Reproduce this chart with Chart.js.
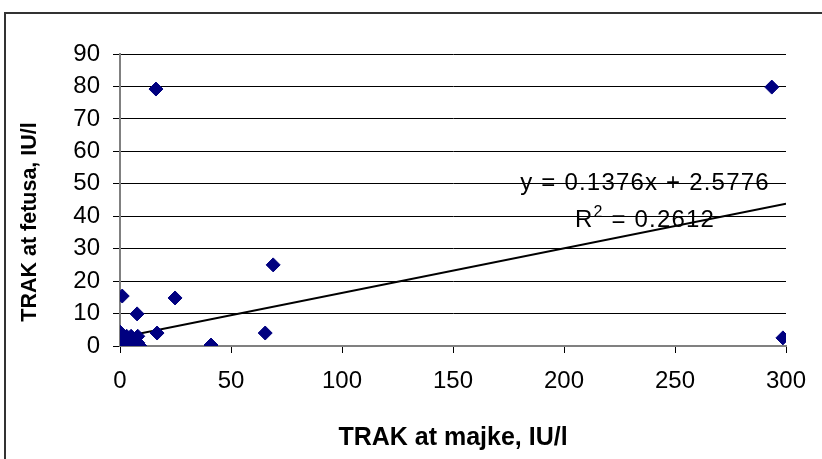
<!DOCTYPE html>
<html>
<head>
<meta charset="utf-8">
<script src="https://cdn.jsdelivr.net/npm/chart.js@4/dist/chart.umd.min.js"></script>
<style>
  html, body { margin: 0; padding: 0; background: #fff; }
  #wrap { width: 822px; height: 459px; }
</style>
</head>
<body>
<div id="wrap"><canvas id="scatter" width="822" height="459"></canvas></div>
<script>
// TRAK: maternal (x) vs fetal (y), IU/l
const maternal = [0, 0, 1, 1, 2, 2, 3, 3, 4, 4, 5, 5, 6, 6, 7, 8, 8, 9,
                  0, 1, 7.7, 16.7, 24.8, 16.2, 41, 65.4, 69, 293.6, 298.6];
const fetal    = [0, 1, 0.5, 2, 0, 1.5, 1, 3, 0.5, 2, 0, 3, 1, 2, 0.5, 1, 3, 0,
                  4.3, 15.4, 9.9, 4, 14.8, 79.2, 0.3, 4, 25, 79.8, 2.5];

// linear trendline end points (y = 0.1376x + 2.5776)
const trendX = [0, 300];
const trendY = [2.58, 43.86];

const xTicks = [0, 50, 100, 150, 200, 250, 300];
const yTicks = [0, 10, 20, 30, 40, 50, 60, 70, 80, 90];

const xTitle = 'TRAK at majke, IU/l';
const yTitle = 'TRAK at fetusa, IU/l';
const eqLine = 'y = 0.1376x + 2.5776';
const r2Value = ' = 0.2612';

const FONT = 'Liberation Sans, Arial, sans-serif';
const NAVY = '#000080';

const frame = {
  id: 'frame',
  beforeDraw(chart) {
    const ctx = chart.ctx;
    ctx.save();
    ctx.fillStyle = '#fff';
    ctx.fillRect(0, 0, chart.width, chart.height);
    ctx.strokeStyle = '#333';
    ctx.lineWidth = 2;
    ctx.strokeRect(5, 13, chart.width + 20, chart.height + 20);
    ctx.restore();
  },
  afterDraw(chart) {
    const ctx = chart.ctx;
    const x = chart.scales.x, y = chart.scales.y;
    ctx.save();
    ctx.fillStyle = '#000';
    ctx.textBaseline = 'middle';
    ctx.textAlign = 'center';

    // y axis title, rotated
    ctx.save();
    ctx.translate(30, 222);
    ctx.rotate(-Math.PI / 2);
    ctx.font = 'bold 21.5px ' + FONT;
    ctx.fillText(yTitle, 0, 0);
    ctx.restore();

    // trendline label
    ctx.letterSpacing = '1.2px';
    const cx = x.getPixelForValue(236.5);
    ctx.font = '24px ' + FONT;
    ctx.fillText(eqLine, cx, y.getPixelForValue(50.2));
    const ly = y.getPixelForValue(38.6);
    const wR = ctx.measureText('R').width;
    const wV = ctx.measureText(r2Value).width;
    ctx.font = '16px ' + FONT;
    const w2 = ctx.measureText('2').width;
    const sx = cx - (wR + w2 + wV) / 2;
    ctx.textAlign = 'left';
    ctx.font = '24px ' + FONT;
    ctx.fillText('R', sx, ly);
    ctx.font = '16px ' + FONT;
    ctx.fillText('2', sx + wR, ly - 8);
    ctx.font = '24px ' + FONT;
    ctx.fillText(r2Value, sx + wR + w2, ly);
    ctx.restore();
  }
};

new Chart(document.getElementById('scatter'), {
  type: 'scatter',
  data: {
    datasets: [
      {
        data: maternal.map((v, i) => ({ x: v, y: fetal[i] })),
        backgroundColor: NAVY,
        borderColor: NAVY,
        pointStyle: 'rectRot',
        pointRadius: 7,
        pointHoverRadius: 7,
        order: 1
      },
      {
        type: 'line',
        data: trendX.map((v, i) => ({ x: v, y: trendY[i] })),
        borderColor: '#000',
        borderWidth: 2,
        pointRadius: 0,
        fill: false,
        order: 2
      }
    ]
  },
  options: {
    responsive: false,
    animation: false,
    layout: { padding: { left: 0, top: 54, right: 36, bottom: 0 } },
    plugins: { legend: { display: false }, tooltip: { enabled: false } },
    scales: {
      x: {
        type: 'linear',
        min: 0, max: 300,
        afterBuildTicks: s => { s.ticks = xTicks.map(v => ({ value: v })); },
        afterFit: s => { s.height = 113; },
        border: { color: '#808080', width: 2 },
        grid: { drawOnChartArea: false, tickLength: 7, tickColor: '#000' },
        ticks: { color: '#000', padding: 14, font: { family: FONT, size: 24 } },
        title: {
          display: true,
          text: xTitle,
          color: '#000',
          padding: 6,
          font: { family: FONT, size: 25, weight: 'bold' }
        }
      },
      y: {
        min: 0, max: 90,
        afterBuildTicks: s => { s.ticks = yTicks.map(v => ({ value: v })); },
        afterFit: s => { s.width = 120; },
        border: { color: '#808080', width: 2 },
        grid: { color: '#000', lineWidth: 1, tickLength: 7, tickColor: '#000' },
        ticks: { color: '#000', padding: 13, font: { family: FONT, size: 24 } }
      }
    }
  },
  plugins: [frame]
});
</script>
</body>
</html>
